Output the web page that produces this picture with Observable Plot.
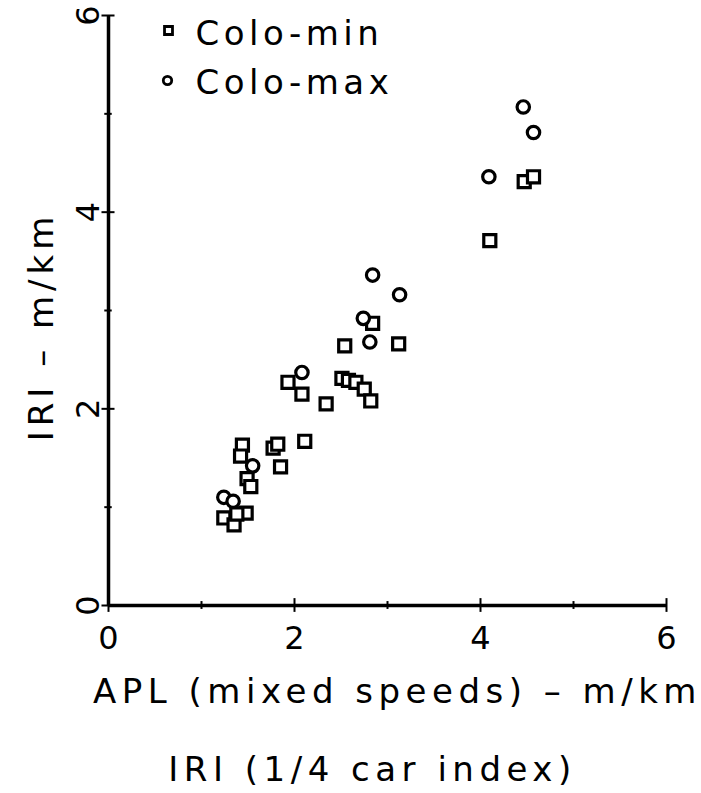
<!DOCTYPE html>
<html>
<head>
<meta charset="utf-8">
<script src="https://cdn.jsdelivr.net/npm/d3@7"></script>
<script src="https://cdn.jsdelivr.net/npm/@observablehq/plot@0.6"></script>
<style>
  html, body { margin: 0; padding: 0; background: #fff; }
  svg { display: block; }
  .spaced, .spaced text { letter-spacing: 5.5px; }
  .spacedY, .spacedY text { letter-spacing: 5px; }
  .spacedLegend, .spacedLegend text { letter-spacing: 4.5px; }
</style>
</head>
<body>
<div id="chart"></div>
<script>
// Colo-min (squares)
const minX = [4.10, 4.47, 4.57, 2.84, 2.54, 3.12, 2.51, 2.58, 2.66, 2.75, 2.82, 2.34, 1.93, 2.08, 2.11, 1.77, 1.82, 1.85, 1.44, 1.42, 1.49, 1.53, 1.24, 1.35, 1.48, 1.38];
const minY = [3.71, 4.31, 4.36, 2.87, 2.64, 2.66, 2.31, 2.29, 2.27, 2.20, 2.08, 2.05, 2.27, 2.15, 1.67, 1.60, 1.64, 1.41, 1.63, 1.52, 1.29, 1.21, 0.89, 0.82, 0.94, 0.93];
// Colo-max (circles)
const maxX = [4.46, 4.57, 4.09, 2.84, 3.13, 2.74, 2.81, 2.08, 1.55, 1.24, 1.34];
const maxY = [5.07, 4.81, 4.36, 3.36, 3.16, 2.92, 2.68, 2.37, 1.42, 1.10, 1.06];

const majorTicks = [0, 2, 4, 6];
const minorTicks = [1, 3, 5];
const seriesNames = ["Colo-min", "Colo-max"];
const xTitle = "APL (mixed speeds) – m/km";
const xSubTitle = "IRI (1/4 car index)";
const yTitle = "IRI – m/km";

const minData = minX.map((x, i) => ({x, y: minY[i]}));
const maxData = maxX.map((x, i) => ({x, y: maxY[i]}));

const font = "DejaVu Sans";
const ink = "#000";

const chart = Plot.plot({
  width: 701,
  height: 793,
  marginLeft: 108,
  marginRight: 35,
  marginTop: 15,
  marginBottom: 188,
  style: {fontFamily: font, background: "#fff"},
  x: {domain: [0, 6], axis: null},
  y: {domain: [0, 6], axis: null},
  marks: [
    // axis lines
    Plot.ruleY([0], {stroke: ink, strokeWidth: 3.5}),
    Plot.ruleX([0], {stroke: ink, strokeWidth: 3.5}),
    // x ticks
    Plot.ruleX(majorTicks, {x: d => d, y1: -0.07, y2: 0.07, stroke: ink, strokeWidth: 2}),
    Plot.ruleX(minorTicks, {x: d => d, y1: -0.04, y2: 0.04, stroke: ink, strokeWidth: 2}),
    // y ticks
    Plot.ruleY(majorTicks, {y: d => d, x1: -0.07, x2: 0.07, stroke: ink, strokeWidth: 2}),
    Plot.ruleY(minorTicks, {y: d => d, x1: -0.04, x2: 0.04, stroke: ink, strokeWidth: 2}),
    // tick labels
    Plot.text(majorTicks, {x: d => d, y: 0, dy: 33, text: d => String(d), fontSize: 32, fill: ink}),
    Plot.text(majorTicks, {x: 0, y: d => d, dx: -20, rotate: -90, text: d => String(d), fontSize: 32, fill: ink}),
    // axis titles
    Plot.text([xTitle], {frameAnchor: "bottom", lineAnchor: "middle", dx: 10, dy: 87, text: d => d, fontSize: 34, fill: ink, className: "spaced"}),
    Plot.text([xSubTitle], {frameAnchor: "bottom", lineAnchor: "middle", dx: -15, dy: 165, text: d => d, fontSize: 34, fill: ink, className: "spaced"}),
    Plot.text([yTitle], {frameAnchor: "left", lineAnchor: "middle", textAnchor: "middle", dx: -66, dy: 16, rotate: -90, text: d => d, fontSize: 34, fill: ink, className: "spacedY"}),
    // data
    Plot.dot(minData, {x: "x", y: "y", symbol: "square", r: 6.8, stroke: ink, strokeWidth: 3.2, fill: "#fff"}),
    Plot.dot(maxData, {x: "x", y: "y", symbol: "circle", r: 6.2, stroke: ink, strokeWidth: 3.2, fill: "#fff"}),
    // legend
    Plot.dot([seriesNames[0]], {frameAnchor: "top-left", dx: 60, dy: 15, symbol: "square", r: 4.5, stroke: ink, strokeWidth: 2.8, fill: "#fff"}),
    Plot.dot([seriesNames[1]], {frameAnchor: "top-left", dx: 59, dy: 65, symbol: "circle", r: 4.2, stroke: ink, strokeWidth: 2.8, fill: "#fff"}),
    Plot.text([seriesNames[0]], {frameAnchor: "top-left", lineAnchor: "middle", dx: 87, dy: 19, text: d => d, textAnchor: "start", fontSize: 34, fill: ink, className: "spacedLegend"}),
    Plot.text([seriesNames[1]], {frameAnchor: "top-left", lineAnchor: "middle", dx: 87, dy: 68, text: d => d, textAnchor: "start", fontSize: 34, fill: ink, className: "spacedLegend"})
  ]
});
document.getElementById("chart").appendChild(chart);
</script>
</body>
</html>
